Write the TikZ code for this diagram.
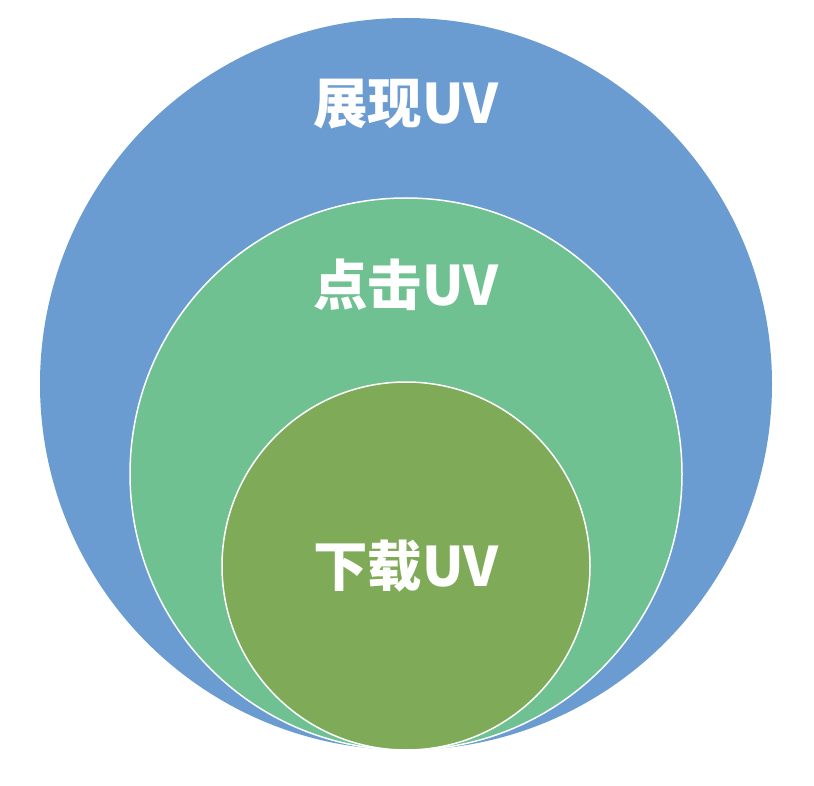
\documentclass[tikz,border=0pt]{standalone}
\usepackage{fontspec}
\newfontfamily\cjk{Noto Sans CJK SC}
\definecolor{outerblue}{HTML}{6A9BD1}
\definecolor{midgreen}{HTML}{70C191}
\definecolor{innergreen}{HTML}{7FAA57}
\tikzset{
  ring/.style={draw=white, line width=1.5pt},
  lbl/.style={text=white, font=\cjk\bfseries\fontsize{54.5}{60}\selectfont, inner sep=0pt}
}
\begin{document}
\begin{tikzpicture}[x=1pt,y=-1pt]
\useasboundingbox (0,0) rectangle (814,786);
\fill[outerblue] (406,384) circle[radius=366];
\filldraw[ring, fill=midgreen] (406,474) circle[radius=276];
\filldraw[ring, fill=innergreen] (406,566) circle[radius=184];
\node[lbl] (t1) at (406,104) {展现UV};
\node[lbl] (t2) at (406,285) {点击UV};
\node[lbl] (t3) at (406,566) {下载UV};
\end{tikzpicture}
\end{document}
